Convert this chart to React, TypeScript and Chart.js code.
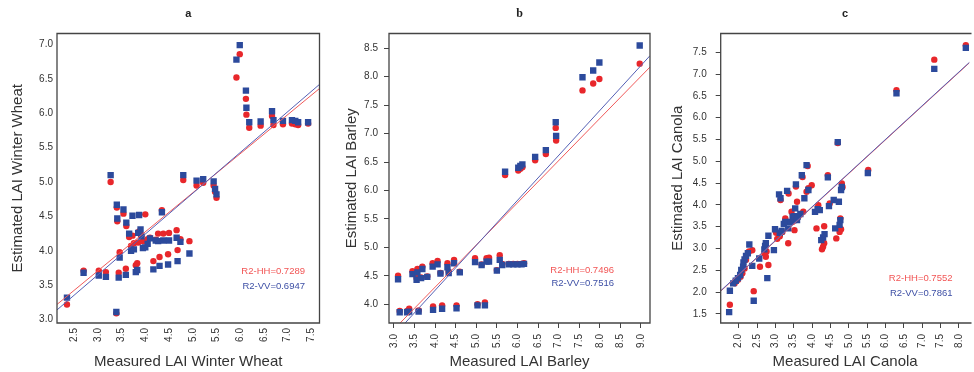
import React, { useEffect, useRef } from "react";
import { Chart, registerables } from "chart.js";

Chart.register(...registerables);

// ---------------- Panel a : Winter Wheat ----------------
const wheatMeasured = [2.35, 2.70, 3.02, 3.17, 3.27, 3.39, 3.40, 3.41, 3.44, 3.46, 3.54, 3.59, 3.60, 3.66, 3.70, 3.73, 3.76, 3.80, 3.83, 3.85, 3.87, 3.90, 3.92, 3.95, 4.00, 4.05, 4.10, 4.17, 4.22, 4.27, 4.30, 4.35, 4.38, 4.48, 4.50, 4.66, 4.68, 4.74, 4.80, 4.93, 5.08, 5.22, 5.44, 5.47, 5.50, 5.92, 5.99, 6.12, 6.13, 6.19, 6.43, 6.67, 6.70, 6.90, 7.09, 7.16, 7.22, 7.43];
const wheatVV = [3.32, 3.68, 3.64, 3.62, 5.10, 3.11, 4.67, 4.47, 3.61, 3.90, 4.60, 3.65, 4.41, 4.25, 4.00, 4.51, 4.02, 3.69, 3.72, 4.26, 4.52, 4.31, 4.21, 4.04, 4.05, 4.10, 4.18, 3.73, 4.15, 4.14, 3.78, 4.56, 4.15, 3.80, 4.15, 4.19, 3.85, 4.13, 5.10, 3.96, 5.02, 5.04, 5.01, 4.90, 4.82, 6.78, 6.99, 6.33, 6.08, 5.87, 5.88, 6.03, 5.90, 5.89, 5.90, 5.89, 5.87, 5.87];
const wheatHH = [3.22, 3.71, 3.71, 3.69, 5.00, 3.09, 4.63, 4.43, 3.68, 3.98, 4.54, 3.74, 4.36, 4.20, 4.07, 4.22, 4.11, 3.79, 3.82, 4.12, 4.28, 4.24, 4.22, 4.14, 4.53, 4.17, 4.19, 3.85, 4.16, 4.25, 3.91, 4.59, 4.25, 3.95, 4.26, 4.30, 4.01, 4.17, 5.03, 4.14, 4.95, 4.99, 4.95, 4.86, 4.77, 6.52, 6.86, 6.21, 5.98, 5.79, 5.82, 5.96, 5.83, 5.84, 5.85, 5.84, 5.83, 5.85];
const wheatFitX = [2.14, 7.67];
const wheatFitHH = [3.22, 6.36];
const wheatFitVV = [3.14, 6.42];
const wheatXTicks = [2.5, 3.0, 3.5, 4.0, 4.5, 5.0, 5.5, 6.0, 6.5, 7.0, 7.5];
const wheatYTicks = [3.0, 3.5, 4.0, 4.5, 5.0, 5.5, 6.0, 6.5, 7.0];
const wheatR2 = ["R2-HH=0.7289", "R2-VV=0.6947"];

// ---------------- Panel b : Barley ----------------
const barleyMeasured = [3.10, 3.14, 3.32, 3.37, 3.45, 3.55, 3.57, 3.60, 3.66, 3.69, 3.81, 3.94, 3.95, 4.06, 4.13, 4.17, 4.30, 4.33, 4.46, 4.52, 4.60, 4.97, 5.03, 5.13, 5.21, 5.25, 5.31, 5.50, 5.57, 5.63, 5.79, 5.90, 6.00, 6.10, 6.16, 5.70, 6.02, 6.07, 6.12, 6.43, 6.69, 6.93, 6.94, 7.58, 7.84, 7.99, 8.97];
const barleyVV = [4.44, 3.86, 3.86, 3.87, 4.53, 4.43, 4.56, 3.87, 4.46, 4.62, 4.48, 4.66, 3.90, 4.70, 4.54, 3.92, 4.65, 4.55, 4.72, 3.93, 4.56, 4.74, 3.98, 4.69, 3.98, 4.75, 4.75, 4.59, 4.78, 4.69, 4.70, 4.70, 4.70, 4.70, 4.71, 6.33, 6.40, 6.43, 6.46, 6.59, 6.71, 7.20, 6.96, 7.99, 8.11, 8.25, 8.55];
const barleyHH = [4.50, 3.88, 3.88, 3.92, 4.58, 4.46, 4.62, 3.89, 4.47, 4.66, 4.49, 4.72, 3.96, 4.76, 4.55, 3.98, 4.72, 4.57, 4.78, 3.98, 4.57, 4.81, 4.00, 4.70, 4.03, 4.81, 4.82, 4.60, 4.86, 4.71, 4.71, 4.71, 4.71, 4.71, 4.72, 6.27, 6.35, 6.38, 6.41, 6.53, 6.64, 7.10, 6.88, 7.76, 7.88, 7.96, 8.23];
const barleyFitX = [2.88, 9.22];
const barleyFitHH = [3.47, 8.17];
const barleyFitVV = [3.36, 8.37];
const barleyXTicks = [3.0, 3.5, 4.0, 4.5, 5.0, 5.5, 6.0, 6.5, 7.0, 7.5, 8.0, 8.5, 9.0];
const barleyYTicks = [4.0, 4.5, 5.0, 5.5, 6.0, 6.5, 7.0, 7.5, 8.0, 8.5];
const barleyR2 = ["R2-HH=0.7496", "R2-VV=0.7516"];

// ---------------- Panel c : Canola ----------------
const canolaVVx = [1.74, 1.76, 1.85, 1.92, 1.98, 2.04, 2.07, 2.12, 2.13, 2.16, 2.20, 2.25, 2.29, 2.37, 2.41, 2.56, 2.70, 2.72, 2.74, 2.78, 2.81, 2.96, 2.99, 3.12, 3.10, 3.14, 3.17, 3.23, 3.27, 3.32, 3.35, 3.41, 3.47, 3.50, 3.52, 3.54, 3.56, 3.59, 3.61, 3.68, 3.72, 3.79, 3.85, 3.90, 4.08, 4.15, 4.21, 4.25, 4.30, 4.34, 4.43, 4.46, 4.59, 4.63, 4.73, 4.75, 4.77, 4.79, 4.81, 4.70, 5.52, 6.30, 7.33, 8.19];
const canolaVVy = [1.54, 2.03, 2.20, 2.26, 2.32, 2.39, 2.51, 2.58, 2.68, 2.75, 2.83, 2.89, 3.09, 2.60, 1.80, 2.77, 2.98, 3.06, 3.12, 2.32, 3.29, 2.96, 3.44, 3.36, 4.24, 4.15, 3.40, 3.56, 3.61, 4.32, 3.46, 3.61, 3.73, 3.65, 3.74, 3.92, 4.47, 3.65, 3.73, 3.79, 4.68, 4.15, 4.91, 4.34, 3.84, 3.90, 3.88, 3.19, 3.25, 3.33, 4.63, 3.97, 4.11, 3.46, 4.07, 3.54, 3.65, 4.34, 4.41, 5.44, 4.73, 6.56, 7.12, 7.60];
const canolaHHx = [1.76, 1.89, 1.98, 2.05, 2.10, 2.16, 2.20, 2.28, 2.37, 2.41, 2.58, 2.70, 2.74, 2.76, 2.81, 3.02, 3.05, 3.12, 3.14, 3.19, 3.27, 3.35, 3.36, 3.44, 3.47, 3.52, 3.56, 3.59, 3.63, 3.74, 3.76, 3.85, 3.88, 3.90, 3.99, 4.12, 4.17, 4.27, 4.30, 4.33, 4.33, 4.43, 4.48, 4.66, 4.75, 4.77, 4.79, 4.81, 4.83, 4.70, 5.53, 6.30, 7.33, 8.19];
const canolaHHy = [1.71, 2.20, 2.28, 2.35, 2.43, 2.54, 2.74, 2.93, 2.96, 2.02, 2.58, 2.89, 2.81, 2.93, 2.62, 3.36, 3.22, 3.28, 4.11, 3.38, 3.69, 3.12, 4.26, 3.84, 3.61, 3.42, 4.42, 4.07, 3.74, 4.64, 3.84, 4.30, 4.89, 4.38, 4.45, 3.46, 3.99, 2.98, 3.04, 3.12, 3.51, 4.68, 4.03, 3.23, 3.38, 3.69, 3.44, 4.49, 4.41, 5.42, 4.80, 6.63, 7.33, 7.66];
const canolaFitX = [1.51, 8.29];
const canolaFitHH = [2.02, 7.26];
const canolaFitVV = [2.03, 7.27];
const canolaXTicks = [2.0, 2.5, 3.0, 3.5, 4.0, 4.5, 5.0, 5.5, 6.0, 6.5, 7.0, 7.5, 8.0];
const canolaYTicks = [1.5, 2.0, 2.5, 3.0, 3.5, 4.0, 4.5, 5.0, 5.5, 6.0, 6.5, 7.0, 7.5];
const canolaR2 = ["R2-HH=0.7552", "R2-VV=0.7861"];

// ---------------- styling ----------------
const RED = "#e8272b";
const BLUE = "#2c4a9c";
const RED_LINE = "#f05a5a";
const BLUE_LINE = "#5560b5";
const TEXT_RED = "#f25555";
const TEXT_BLUE = "#3d4fa5";
const AXIS = "#444";
const LABEL = "#333";
const SANS = "'Liberation Sans', Arial, sans-serif";
const H = 372;
const TOP = 33.5;
const BOTTOM = 323;

const zip = (xs: number[], ys: number[]) => xs.map((x, i) => ({ x, y: ys[i] }));

type PanelSpec = {
  left: number;
  width: number;
  areaLeft: number;
  areaRight: number;
  letter: string;
  letterFont: string;
  xTitle: string;
  yTitle: string;
  xMin: number;
  xMax: number;
  yMin: number;
  yMax: number;
  xTicks: number[];
  yTicks: number[];
  hh: { x: number; y: number }[];
  vv: { x: number; y: number }[];
  fitHH: { x: number; y: number }[];
  fitVV: { x: number; y: number }[];
  r2: string[];
  r2Right: number;
  r2Y: number[];
  yTitlePad: number;
  xTickLen: number;
  xTickPad: number;
  yTickLen: number;
  yTickPad: number;
  rightBorder: boolean;
};

const panels: PanelSpec[] = [
  {
    left: 0, width: 328, areaLeft: 57, areaRight: 319.5,
    letter: "a", letterFont: `bold 11px ${SANS}`,
    xTitle: "Measured LAI Winter Wheat", yTitle: "Estimated LAI Winter Wheat",
    xMin: 2.14, xMax: 7.67, yMin: 2.95, yMax: 7.16,
    xTicks: wheatXTicks, yTicks: wheatYTicks,
    hh: zip(wheatMeasured, wheatHH), vv: zip(wheatMeasured, wheatVV),
    fitHH: zip(wheatFitX, wheatFitHH), fitVV: zip(wheatFitX, wheatFitVV),
    r2: wheatR2, r2Right: 14.5, r2Y: [271, 286],
    yTitlePad: 9, xTickLen: 0, xTickPad: 5, yTickLen: 0, yTickPad: 4, rightBorder: true,
  },
  {
    left: 325, width: 330, areaLeft: 64, areaRight: 325,
    letter: "b", letterFont: `bold 12px 'Liberation Serif', 'Times New Roman', serif`,
    xTitle: "Measured LAI Barley", yTitle: "Estimated LAI Barley",
    xMin: 2.88, xMax: 9.22, yMin: 3.67, yMax: 8.76,
    xTicks: barleyXTicks, yTicks: barleyYTicks,
    hh: zip(barleyMeasured, barleyHH), vv: zip(barleyMeasured, barleyVV),
    fitHH: zip(barleyFitX, barleyFitHH), fitVV: zip(barleyFitX, barleyFitVV),
    r2: barleyR2, r2Right: 36, r2Y: [270, 283],
    yTitlePad: 18, xTickLen: 5, xTickPad: 6, yTickLen: 5, yTickPad: 6, rightBorder: true,
  },
  {
    left: 650, width: 324, areaLeft: 70.7, areaRight: 324,
    letter: "c", letterFont: `bold 11px ${SANS}`,
    xTitle: "Measured LAI Canola", yTitle: "Estimated LAI Canola",
    xMin: 1.51, xMax: 8.29, yMin: 1.29, yMax: 7.93,
    xTicks: canolaXTicks, yTicks: canolaYTicks,
    hh: zip(canolaHHx, canolaHHy), vv: zip(canolaVVx, canolaVVy),
    fitHH: zip(canolaFitX, canolaFitHH), fitVV: zip(canolaFitX, canolaFitVV),
    r2: canolaR2, r2Right: 17, r2Y: [278, 293],
    yTitlePad: 19, xTickLen: 5, xTickPad: 6, yTickLen: 5, yTickPad: 9, rightBorder: false,
  },
];

function Panel({ spec }: { spec: PanelSpec }) {
  const ref = useRef<HTMLCanvasElement | null>(null);

  useEffect(() => {
    if (!ref.current) return;
    const s = spec;
    const framePlugin = {
      id: "frameAndText",
      afterDatasetsDraw(chart: any) {
        const { ctx, chartArea: a } = chart;
        ctx.save();
        ctx.strokeStyle = AXIS;
        ctx.lineWidth = 1.3;
        ctx.beginPath();
        if (s.rightBorder) {
          ctx.moveTo(a.right, a.top);
          ctx.lineTo(a.left, a.top);
          ctx.lineTo(a.left, a.bottom);
          ctx.lineTo(a.right, a.bottom);
          ctx.closePath();
        } else {
          ctx.moveTo(a.right + 2, a.top);
          ctx.lineTo(a.left, a.top);
          ctx.lineTo(a.left, a.bottom);
          ctx.lineTo(a.right + 2, a.bottom);
        }
        ctx.stroke();
        // panel letter
        ctx.fillStyle = "#222";
        ctx.font = s.letterFont;
        ctx.textAlign = "center";
        ctx.textBaseline = "middle";
        ctx.fillText(s.letter, (a.left + a.right) / 2, 14);
        // R2 annotations
        ctx.font = `9.5px ${SANS}`;
        ctx.textAlign = "right";
        ctx.fillStyle = TEXT_RED;
        ctx.fillText(s.r2[0], a.right - s.r2Right, s.r2Y[0]);
        ctx.fillStyle = TEXT_BLUE;
        ctx.fillText(s.r2[1], a.right - s.r2Right, s.r2Y[1]);
        ctx.restore();
      },
    };

    const tickFont = { family: SANS, size: 10 };
    const titleFont = { family: SANS, size: 15 };
    const fmt = (v: any) => Number(v).toFixed(1);

    const chart = new Chart(ref.current, {
      type: "scatter",
      data: {
        datasets: [
          { label: "VV fit", data: s.fitVV, showLine: true, borderColor: BLUE_LINE, borderWidth: 1, pointRadius: 0, order: 0 },
          { label: "HH fit", data: s.fitHH, showLine: true, borderColor: RED_LINE, borderWidth: 1, pointRadius: 0, order: 1 },
          { label: "VV", data: s.vv, pointStyle: "rect", pointRadius: 4.5, backgroundColor: BLUE, borderColor: BLUE, borderWidth: 0, order: 2 },
          { label: "HH", data: s.hh, pointStyle: "circle", pointRadius: 3.2, backgroundColor: RED, borderColor: RED, borderWidth: 0, order: 3 },
        ],
      } as any,
      options: {
        animation: false,
        responsive: false,
        maintainAspectRatio: false,
        events: [],
        layout: { padding: { left: 0, top: TOP, bottom: 0, right: s.width - s.areaRight } },
        plugins: { legend: { display: false }, tooltip: { enabled: false }, title: { display: false } },
        scales: {
          x: {
            type: "linear",
            min: s.xMin,
            max: s.xMax,
            bounds: "data",
            border: { display: false },
            grid: { drawOnChartArea: false, drawTicks: s.xTickLen > 0, tickLength: s.xTickLen, color: AXIS, lineWidth: 1 },
            afterBuildTicks: (scale: any) => { scale.ticks = s.xTicks.map((v) => ({ value: v })); },
            ticks: { autoSkip: false, minRotation: 90, maxRotation: 90, padding: s.xTickPad, font: tickFont, color: LABEL, callback: fmt },
            title: { display: true, text: s.xTitle, font: titleFont, color: LABEL, padding: { top: 0, bottom: 1 } },
            afterFit: (scale: any) => { scale.height = H - BOTTOM; scale.paddingLeft = 0; scale.paddingRight = 0; },
          },
          y: {
            type: "linear",
            min: s.yMin,
            max: s.yMax,
            bounds: "data",
            border: { display: false },
            grid: { drawOnChartArea: false, drawTicks: s.yTickLen > 0, tickLength: s.yTickLen, color: AXIS, lineWidth: 1 },
            afterBuildTicks: (scale: any) => { scale.ticks = s.yTicks.map((v) => ({ value: v })); },
            ticks: { autoSkip: false, padding: s.yTickPad, font: tickFont, color: LABEL, callback: fmt },
            title: { display: true, text: s.yTitle, font: titleFont, color: LABEL, padding: { top: s.yTitlePad, bottom: 0 } },
            afterFit: (scale: any) => { scale.width = s.areaLeft; scale.paddingTop = 0; scale.paddingBottom = 0; },
          },
        },
      } as any,
      plugins: [framePlugin],
    });
    return () => chart.destroy();
  }, [spec]);

  return (
    <canvas
      ref={ref}
      width={spec.width}
      height={H}
      style={{ position: "absolute", left: spec.left, top: 0, width: spec.width, height: H }}
    />
  );
}

export default function App() {
  return (
    <div style={{ position: "fixed", left: 0, top: 0, width: 974, height: 372, overflow: "hidden", background: "#fff" }}>
      {panels.map((p) => (
        <Panel key={p.letter} spec={p} />
      ))}
    </div>
  );
}
